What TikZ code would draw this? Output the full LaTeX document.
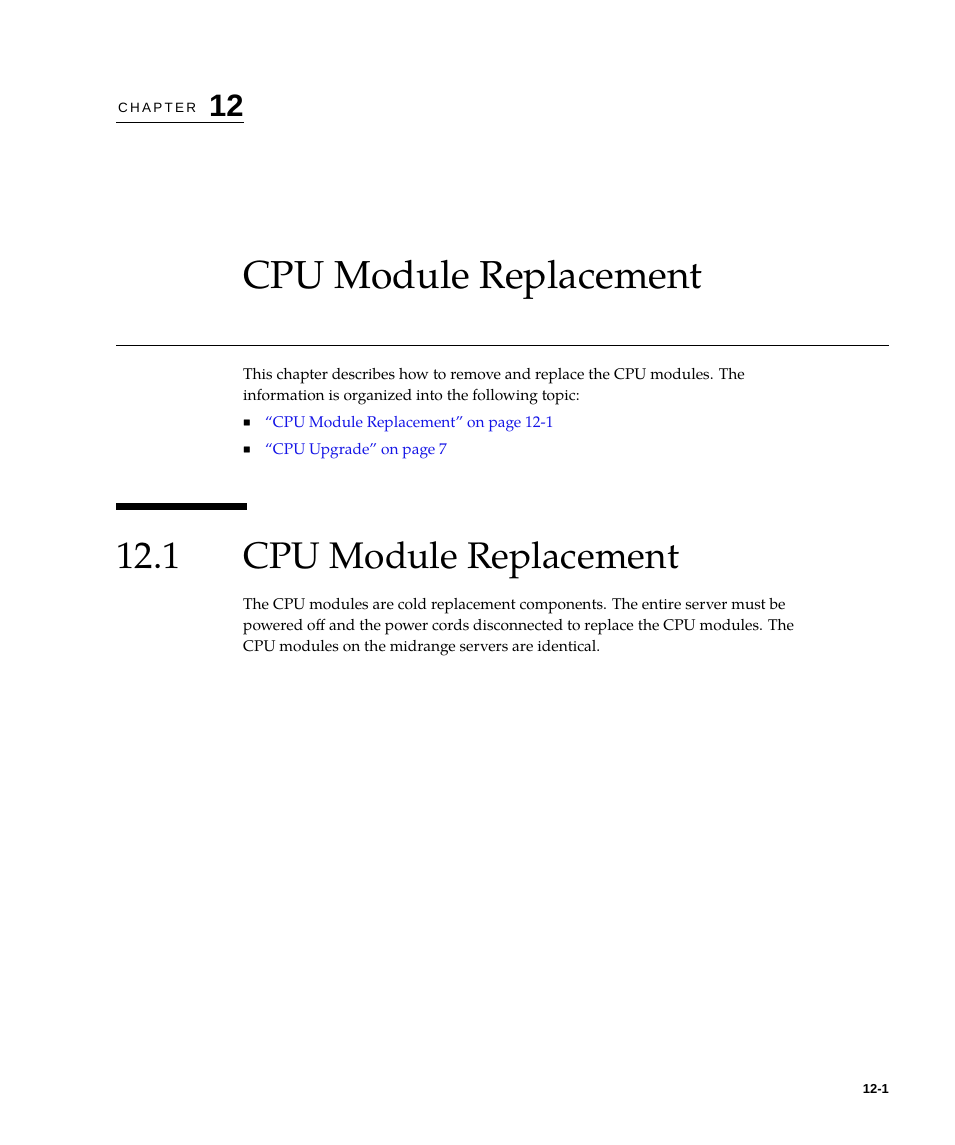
\documentclass[tikz,border=0pt]{standalone}
\usepackage{fontspec}
\setmainfont{TeX Gyre Pagella}[Ligatures=TeX]
\newfontfamily\hsans{Liberation Sans}
\definecolor{linkblue}{RGB}{20,20,230}
\begin{document}
\begin{tikzpicture}[x=1pt,y=-1pt,
  txt/.style={anchor=base west,inner sep=0pt,font=\fontsize{15.5}{19}\selectfont},
  link/.style={txt,text=linkblue},
  big/.style={anchor=base west,inner sep=0pt,font=\fontsize{39}{44}\selectfont}]
\useasboundingbox[fill=white] (0,0) rectangle (954,1145);
\node[anchor=base west,inner sep=0pt,font=\hsans\fontsize{13.5}{15}\selectfont] (chap) at (118,113) {C\,H\,A\,P\,T\,E\,R};
\node[anchor=base west,inner sep=0pt,font=\hsans\bfseries\fontsize{31}{34}\selectfont] (num) at (209,117) {12};
\draw[line width=0.8pt] (116,122.5) -- (244,122.5);
\node[big] (title) at (243,288) {CPU Module Replacement};
\draw[line width=0.8pt] (116,345.5) -- (889,345.5);
\node[txt] (p1) at (243,379) {This chapter describes how to remove and replace the CPU modules. The};
\node[txt] (p2) at (243,400) {information is organized into the following topic:};
\node[txt,font=\fontsize{10}{12}\selectfont] (b1) at (243,425) {■};
\node[link] (l1) at (265,427) {“CPU Module Replacement” on page 12-1};
\node[txt,font=\fontsize{10}{12}\selectfont] (b2) at (243,452) {■};
\node[link] (l2) at (265,454) {“CPU Upgrade” on page 7};
\fill (116,503) rectangle (247,510);
\node[big,font=\fontsize{37}{42}\selectfont] (sn) at (116,568) {12.1};
\node[big,font=\fontsize{37}{42}\selectfont] (st) at (243,568) {CPU Module Replacement};
\node[txt] (q1) at (243,609) {The CPU modules are cold replacement components. The entire server must be};
\node[txt] (q2) at (243,630) {powered off and the power cords disconnected to replace the CPU modules. The};
\node[txt] (q3) at (243,651) {CPU modules on the midrange servers are identical.};
\node[anchor=base east,inner sep=0pt,font=\hsans\bfseries\fontsize{13}{15}\selectfont] (pg) at (889,1093) {12-1};
\end{tikzpicture}
\end{document}
